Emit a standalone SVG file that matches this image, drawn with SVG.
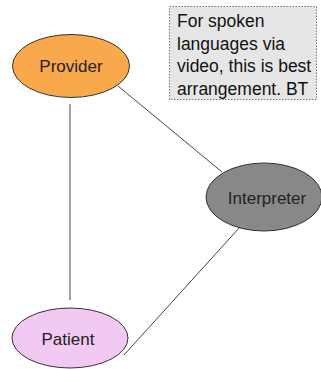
<svg xmlns="http://www.w3.org/2000/svg" width="321" height="369" viewBox="0 0 321 369">
<style>
.node ellipse{stroke:#333;stroke-width:1}
.lbl{font-family:"Liberation Sans",Arial,sans-serif;font-size:17px;fill:#222;text-anchor:middle;dominant-baseline:central}
.conn line{stroke:#444;stroke-width:1}
.note{font-family:"Liberation Sans",Arial,sans-serif;font-size:17.5px;fill:#111}
</style>
<rect width="321" height="369" fill="#fff"/>
<g id="connectors" class="conn">
<line x1="70" y1="104" x2="70" y2="300"/>
<line x1="118" y1="86" x2="222" y2="172"/>
<line x1="240" y1="227" x2="124" y2="355"/>
</g>
<g id="note">
<rect x="169.5" y="6.5" width="147" height="93" fill="#e6e6e6" stroke="#777" stroke-width="1" stroke-dasharray="1.5,1.5"/>
<text class="note" x="177" y="27">For spoken</text>
<text class="note" x="177" y="49.5">languages via</text>
<text class="note" x="177" y="72">video, this is best</text>
<text class="note" x="177" y="94.5">arrangement. BT</text>
</g>
<g id="provider" class="node">
<ellipse cx="71" cy="66" rx="58.5" ry="31.5" fill="#f9a94b"/>
<text class="lbl" x="71" y="66">Provider</text>
</g>
<g id="interpreter" class="node">
<ellipse cx="264" cy="197" rx="58" ry="34" fill="#888888"/>
<text class="lbl" x="267" y="198">Interpreter</text>
</g>
<g id="patient" class="node">
<ellipse cx="70" cy="338" rx="58" ry="30" fill="#f2c9f2"/>
<text class="lbl" x="68" y="339">Patient</text>
</g>
</svg>
